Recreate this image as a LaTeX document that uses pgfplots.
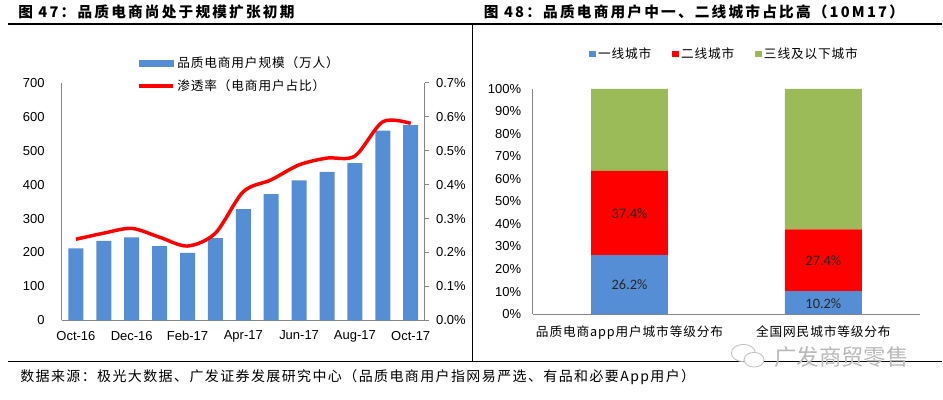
\documentclass[border=0pt]{standalone}
\usepackage{pgfplots}
\pgfplotsset{compat=1.18}
\usepackage{fontspec}
\setmainfont{Liberation Sans}
\newfontfamily\cjk{Noto Sans CJK SC}[LetterSpace=7]
\newfontfamily\cjkt{Noto Sans CJK SC}[LetterSpace=15]
\newfontfamily\cjkf{Noto Sans CJK SC}[LetterSpace=10]
\newfontfamily\cjkw{Noto Sans CJK SC}
\newfontfamily\calib{Carlito}
\definecolor{cblue}{HTML}{558ED5}
\definecolor{cred}{HTML}{FF0000}
\definecolor{cgreen}{HTML}{9BBB59}
\definecolor{axgray}{HTML}{868686}
\begin{document}
\begin{tikzpicture}
\path (0,0) rectangle (707.25pt,300pt);
% rules
\draw[line width=1.1pt] (6pt,282pt) -- (707.25pt,282pt);
\draw[line width=0.9pt] (6pt,28.7pt) -- (707.25pt,28.7pt);
\draw[line width=0.75pt] (354.5pt,282pt) -- (354.5pt,28.7pt);
% titles
\node[anchor=west, inner sep=0pt] at (13.5pt,291pt) {\cjkt\bfseries\fontsize{11}{13}\selectfont 图 47：品质电商尚处于规模扩张初期};
\node[anchor=west, inner sep=0pt] at (363pt,291pt) {\cjkt\bfseries\fontsize{11}{13}\selectfont 图 48：品质电商用户中一、二线城市占比高（10M17）};
% footnote
\node[anchor=west, inner sep=0pt] at (15pt,17.25pt) {\cjkf\fontsize{10.5}{12}\selectfont 数据来源：极光大数据、广发证券发展研究中心（品质电商用户指网易严选、有品和必要App用户）};
% watermark
\draw[gray!50, line width=0.6pt] (558pt,35pt) ellipse (9pt and 6.5pt);
\draw[gray!50, fill=white, line width=0.6pt] (566pt,30pt) ellipse (7.5pt and 5.5pt);
\node[anchor=west, inner sep=0pt, text=gray!55] at (581pt,32.25pt) {\cjkw\fontsize{16.8}{18}\selectfont 广发商贸零售};

% ===== Left chart: bars =====
\begin{axis}[
  at={(46.5pt,59.475pt)}, anchor=south west,
  scale only axis, width=272.25pt, height=178.5pt,
  xmin=-0.5, xmax=12.5, ymin=0, ymax=700,
  axis x line*=bottom, axis y line*=left,
  axis line style={axgray, line width=0.75pt},
  ytick={0,100,200,300,400,500,600,700},
  xtick={0,2,4,6,8,10,12},
  xticklabels={Oct-16,Dec-16,Feb-17,Apr-17,Jun-17,Aug-17,Oct-17},
  major tick length=0pt,
  tick label style={font=\fontsize{9.75}{11}\selectfont},
  /pgf/number format/assume math mode=true,
  yticklabel style={xshift=-9.5pt},
  xticklabel style={yshift=-4.4pt},
  ybar, bar width=11.25pt,
]
\addplot[fill=cblue, draw=none] coordinates {(0,212)(1,234)(2,244.5)(3,219)(4,199)(5,242)(6,327.6)(7,372)(8,412)(9,437)(10,463)(11,559)(12,575)};
\end{axis}

% ===== Left chart: line (right axis) =====
\begin{axis}[
  at={(46.5pt,59.475pt)}, anchor=south west,
  scale only axis, width=272.25pt, height=178.5pt,
  xmin=-0.5, xmax=12.5, ymin=0, ymax=0.7,
  axis x line=none, axis y line*=right,
  axis line style={axgray, line width=0.75pt},
  ytick={0,0.1,0.2,0.3,0.4,0.5,0.6,0.7},
  yticklabel={\pgfmathprintnumber[fixed,fixed zerofill,precision=1]{\tick}\%},
  /pgf/number format/assume math mode=true,
  tick align=outside, major tick length=3pt,
  tick style={axgray, line width=0.75pt},
  tick label style={font=\fontsize{9.75}{11}\selectfont},
  yticklabel style={xshift=2pt},
  legend style={at={(0.207,1.118)}, anchor=north west, draw=none, fill=none,
    inner sep=0pt, row sep=4.5pt, font=\cjk\fontsize{9.5}{11}\selectfont,
    nodes={inner sep=1.5pt}},
  legend cell align=left,
]
\addlegendimage{legend image code/.code={\fill[cblue] (0pt,-2.6pt) rectangle (25.5pt,2.6pt);}}
\addlegendentry{品质电商用户规模（万人）}
\addplot[cred, line width=2.6pt, smooth, tension=0.5,
  legend image code/.code={\draw[cred, line width=3pt] (0pt,0pt) -- (25.5pt,0pt);}]
  coordinates {(0,0.239)(1,0.257)(2,0.271)(3,0.245)(4,0.219)(5,0.257)(6,0.379)(7,0.414)(8,0.458)(9,0.478)(10,0.484)(11,0.585)(12,0.580)};
\addlegendentry{渗透率（电商用户占比）}
\end{axis}

% ===== Right chart =====
\begin{axis}[
  at={(399.75pt,64.275pt)}, anchor=south west,
  scale only axis, width=291pt, height=169pt,
  ybar stacked, bar width=57.75pt,
  xmin=-0.5, xmax=1.5, ymin=0, ymax=100,
  axis x line*=bottom, axis y line*=left,
  axis line style={axgray, line width=0.75pt},
  xtick={0,1},
  xticklabels={{\cjk 品质电商app用户城市等级分布},{\cjk 全国网民城市等级分布}},
  ytick={0,10,20,30,40,50,60,70,80,90,100},
  yticklabel={\pgfmathprintnumber{\tick}\%},
  /pgf/number format/assume math mode=true,
  major tick length=0pt,
  tick label style={font=\fontsize{9.75}{11}\selectfont},
  xticklabel style={font=\cjk\fontsize{9.5}{11}\selectfont, yshift=-5.5pt},
  yticklabel style={xshift=-5pt},
  legend style={at={(0.495,1.155)}, anchor=center, legend columns=3, draw=none, fill=none,
    font=\cjk\fontsize{9.5}{11}\selectfont, inner sep=0pt,
    /tikz/every even column/.append style={column sep=14pt},
    nodes={inner sep=1.5pt}},
  legend image code/.code={\fill[#1] (0pt,-2.6pt) rectangle (5.25pt,2.6pt);},
]
\addplot[fill=cblue, draw=none] coordinates {(0,26.2)(1,10.2)};
\addlegendentry{一线城市}
\addplot[fill=cred, draw=none] coordinates {(0,37.4)(1,27.4)};
\addlegendentry{二线城市}
\addplot[fill=cgreen, draw=none] coordinates {(0,36.4)(1,62.4)};
\addlegendentry{三线及以下城市}
\coordinate (la) at (axis cs:0,13.1);
\coordinate (lb) at (axis cs:0,44.7);
\coordinate (lc) at (axis cs:1,4.6);
\coordinate (ld) at (axis cs:1,23.9);
\end{axis}
\node[font=\calib\fontsize{10.8}{12}\selectfont, text=black!85] at (la) {26.2\%};
\node[font=\calib\fontsize{10.8}{12}\selectfont, text=black!85] at (lb) {37.4\%};
\node[font=\calib\fontsize{10.8}{12}\selectfont, text=black!85] at (lc) {10.2\%};
\node[font=\calib\fontsize{10.8}{12}\selectfont, text=black!85] at (ld) {27.4\%};
\end{tikzpicture}
\end{document}
